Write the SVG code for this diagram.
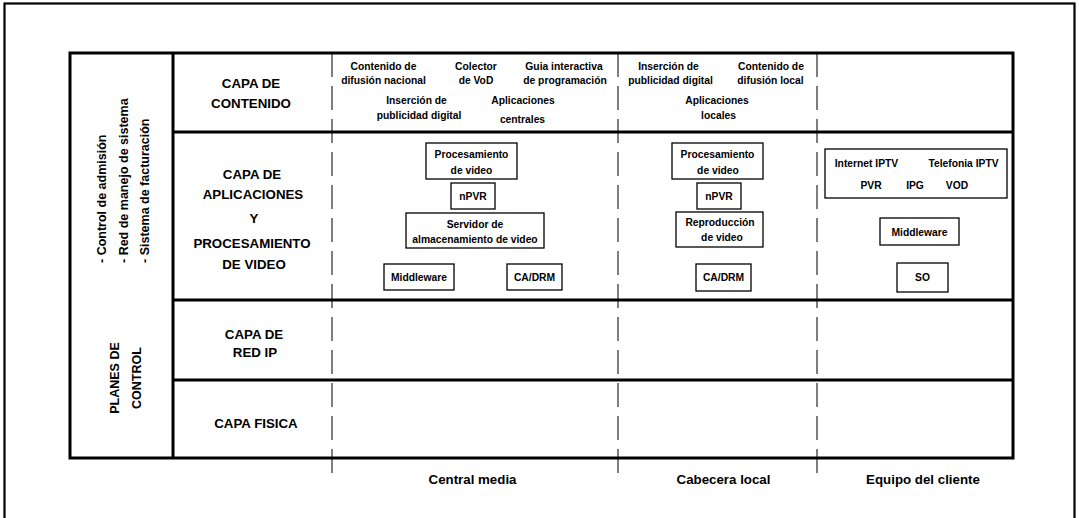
<svg xmlns="http://www.w3.org/2000/svg" width="1079" height="518" viewBox="0 0 1079 518">
<style>
text{font-family:"Liberation Sans",Arial,sans-serif;font-weight:bold;fill:#000}
.lbl{font-size:13.3px;text-anchor:middle}
.sm{font-size:10.3px;text-anchor:middle}
.bt{font-size:13.3px;text-anchor:middle}
.rot{font-size:12.5px}
.box{fill:#fff;stroke:#000;stroke-width:1.3}
.thick{stroke:#000;stroke-width:3;fill:none}
.dash{stroke:#3a3a3a;stroke-width:1.3;stroke-dasharray:24 9;fill:none}
</style>
<rect x="0" y="0" width="1079" height="518" fill="#fff"/>
<rect x="4.5" y="3.5" width="1070" height="530" fill="none" stroke="#000" stroke-width="2.2"/>

<g id="separators">
<line class="dash" x1="332" y1="53" x2="332" y2="481"/>
<line class="dash" x1="618" y1="53" x2="618" y2="479"/>
<line class="dash" x1="817" y1="53" x2="817" y2="482"/>
</g>

<g id="grid">
<rect class="thick" x="70" y="53" width="943" height="405"/>
<line class="thick" x1="173" y1="53" x2="173" y2="458"/>
<line class="thick" x1="173" y1="132" x2="1013" y2="132"/>
<line class="thick" x1="173" y1="300" x2="1013" y2="300"/>
<line class="thick" x1="173" y1="380" x2="1013" y2="380"/>
</g>

<g id="planes-control">
<text class="rot" transform="translate(106,263) rotate(-90)">- Control de admisión</text>
<text class="rot" transform="translate(127.5,263) rotate(-90)">- Red de manejo de sistema</text>
<text class="rot" transform="translate(149,263) rotate(-90)">- Sistema de facturación</text>
<text class="rot" text-anchor="middle" transform="translate(118.5,378) rotate(-90)">PLANES DE</text>
<text class="rot" text-anchor="middle" transform="translate(140.5,378) rotate(-90)">CONTROL</text>
</g>

<g id="capa-contenido">
<text class="lbl" x="251" y="87.5">CAPA DE</text>
<text class="lbl" x="251" y="107.5">CONTENIDO</text>
</g>
<g id="capa-aplicaciones">
<text class="lbl" x="252" y="178.5">CAPA DE</text>
<text class="lbl" x="253" y="199">APLICACIONES</text>
<text class="lbl" x="254" y="223">Y</text>
<text class="lbl" x="252" y="248">PROCESAMIENTO</text>
<text class="lbl" x="254" y="269">DE VIDEO</text>
</g>
<g id="capa-red-ip">
<text class="lbl" x="254" y="339">CAPA DE</text>
<text class="lbl" x="255" y="357">RED IP</text>
</g>
<g id="capa-fisica">
<text class="lbl" x="256" y="428">CAPA FISICA</text>
</g>

<g id="contenido-central">
<text class="sm" x="383.5" y="70">Contenido de</text>
<text class="sm" x="383.5" y="84">difusión nacional</text>
<text class="sm" x="476" y="70">Colector</text>
<text class="sm" x="476" y="84">de VoD</text>
<text class="sm" x="564" y="70">Guia interactiva</text>
<text class="sm" x="565" y="84">de programación</text>
<text class="sm" x="416.5" y="104">Inserción de</text>
<text class="sm" x="419" y="119">publicidad digital</text>
<text class="sm" x="523" y="104">Aplicaciones</text>
<text class="sm" x="522.5" y="123">centrales</text>
</g>
<g id="contenido-cabecera">
<text class="sm" x="668.5" y="70">Inserción de</text>
<text class="sm" x="670.5" y="84">publicidad digital</text>
<text class="sm" x="771" y="70">Contenido de</text>
<text class="sm" x="770.5" y="84">difusión local</text>
<text class="sm" x="717" y="104">Aplicaciones</text>
<text class="sm" x="718.5" y="119">locales</text>
</g>

<g id="central-procesamiento">
<rect class="box" x="426" y="143" width="91" height="36"/>
<text class="sm" x="471.5" y="157.5">Procesamiento</text>
<text class="sm" x="471.5" y="174">de video</text>
</g>
<g id="central-npvr">
<rect class="box" x="451" y="183" width="44" height="26"/>
<text class="sm" x="473" y="200">nPVR</text>
</g>
<g id="central-servidor">
<rect class="box" x="406" y="213" width="138" height="35"/>
<text class="sm" x="475" y="228">Servidor de</text>
<text class="sm" x="475" y="242.5">almacenamiento de video</text>
</g>
<g id="central-middleware">
<rect class="box" x="384" y="264" width="70" height="26"/>
<text class="sm" x="419" y="281">Middleware</text>
</g>
<g id="central-cadrm">
<rect class="box" x="507" y="264" width="55" height="26"/>
<text class="sm" x="534.5" y="281">CA/DRM</text>
</g>

<g id="cabecera-procesamiento">
<rect class="box" x="672" y="143" width="91" height="36"/>
<text class="sm" x="717.5" y="157.5">Procesamiento</text>
<text class="sm" x="718" y="174">de video</text>
</g>
<g id="cabecera-npvr">
<rect class="box" x="697" y="183" width="44" height="26"/>
<text class="sm" x="719" y="200">nPVR</text>
</g>
<g id="cabecera-reproduccion">
<rect class="box" x="676" y="212" width="87" height="35"/>
<text class="sm" x="720" y="226">Reproducción</text>
<text class="sm" x="722" y="241">de video</text>
</g>
<g id="cabecera-cadrm">
<rect class="box" x="696" y="264" width="55" height="27"/>
<text class="sm" x="723.5" y="281">CA/DRM</text>
</g>

<g id="cliente-servicios">
<rect class="box" x="825" y="149" width="182" height="49"/>
<text class="sm" x="866.5" y="166.5">Internet IPTV</text>
<text class="sm" x="963.5" y="166.5">Telefonia IPTV</text>
<text class="sm" x="871" y="189">PVR</text>
<text class="sm" x="915" y="189">IPG</text>
<text class="sm" x="957" y="189">VOD</text>
</g>
<g id="cliente-middleware">
<rect class="box" x="880" y="218" width="79" height="27"/>
<text class="sm" x="919.5" y="235.5">Middleware</text>
</g>
<g id="cliente-so">
<rect class="box" x="897" y="263" width="51" height="29"/>
<text class="sm" x="922.5" y="281">SO</text>
</g>

<g id="columnas">
<text class="bt" x="472.5" y="484">Central media</text>
<text class="bt" x="723.5" y="484">Cabecera local</text>
<text class="bt" x="923" y="484">Equipo del cliente</text>
</g>
</svg>
